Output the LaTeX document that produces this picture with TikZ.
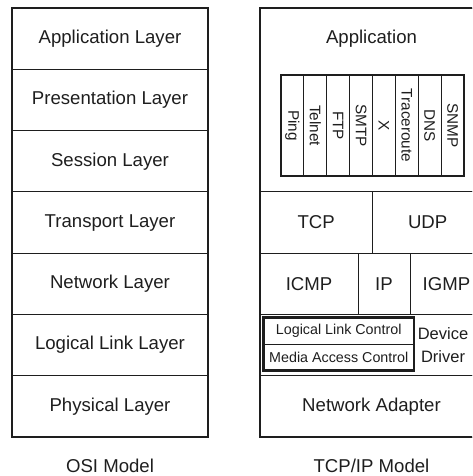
\documentclass[tikz,border=0pt]{standalone}
\usepackage{fontspec}
\setmainfont{Liberation Sans}
\definecolor{ink}{HTML}{1E1E1E}
\begin{document}
\begin{tikzpicture}[x=1pt,y=-1pt,
  cell/.style={draw=ink, line width=0.9pt, inner sep=0pt, text=ink,
    font=\fontsize{18.6}{22}\selectfont},
  frame/.style={draw=ink, line width=2pt, inner sep=0pt},
  inbox/.style={draw=ink, line width=2.4pt, inner sep=0pt},
  vcell/.style={draw=ink, line width=0.9pt, inner sep=0pt, text=ink, rotate=-90,
    minimum width=101pt, minimum height=22.875pt,
    font=\fontsize{15.3}{18}\selectfont},
  small/.style={inner sep=0pt, text=ink, font=\fontsize{14.3}{17}\selectfont,
    minimum width=150.5pt, minimum height=26.5pt, draw=ink, line width=0.9pt},
  label/.style={inner sep=0pt, text=ink, font=\fontsize{18.6}{22}\selectfont, anchor=base},
  ]
\clip (0,0) rectangle (472,476);
% ---------------- OSI model ----------------
\foreach \t [count=\i] in {Application Layer,Presentation Layer,Session Layer,Transport Layer,Network Layer,Logical Link Layer,Physical Layer}{
  \node[cell, minimum width=196pt, minimum height=61.3pt] (osi\i) at (110,{8+61.3*(\i-0.5)}) {\t};
}
\node[frame, minimum width=196pt, minimum height=429.1pt] (osiframe) at (110,222.55) {};
\node[label] (osicap) at (110,472) {OSI Model};
% ---------------- TCP/IP model ----------------
\node[cell, minimum width=223pt, minimum height=183.9pt] (app) at (371.5,99.95) {};
\node[label] (apptext) at (371.5,44) {Application};
\foreach \t [count=\i] in {Ping,Telnet,FTP,SMTP,X,Traceroute,DNS,SNMP}{
  \node[vcell] (c\i) at ({281+22.875*(\i-0.5)},125.5) {\t};
}
\node[inbox, minimum width=183pt, minimum height=101pt] (appbox) at (372.5,125.5) {};
\node[cell, minimum width=112.3pt, minimum height=61.3pt] (tcp) at (316.15,222.55) {TCP};
\node[cell, minimum width=110.7pt, minimum height=61.3pt] (udp) at (427.65,222.55) {UDP};
\node[cell, minimum width=98pt, minimum height=61.3pt] (icmp) at (309,283.85) {ICMP};
\node[cell, minimum width=52pt, minimum height=61.3pt] (ip) at (384,283.85) {IP};
\node[cell, minimum width=73pt, minimum height=61.3pt] (igmp) at (446.5,283.85) {IGMP};
\node[cell, minimum width=223pt, minimum height=61.3pt] (link) at (371.5,345.15) {};
\node[small] (llc) at (338.75,330.75) {Logical Link Control};
\node[small] (mac) at (338.75,357.25) {Media Access Control};
\node[inbox, minimum width=150.5pt, minimum height=53pt] (linkbox) at (338.75,344) {};
\node[inner sep=0pt, text=ink, align=center, font=\fontsize{16.5}{23.5}\selectfont] (drv) at (443,345) {Device\\Driver};
\node[cell, minimum width=223pt, minimum height=61.3pt] (adapter) at (371.5,406.45) {Network Adapter};
\node[frame, minimum width=223pt, minimum height=429.1pt] (tcpframe) at (371.5,222.55) {};
\node[label] (tcpcap) at (371.5,472) {TCP/IP Model};
\end{tikzpicture}
\end{document}
